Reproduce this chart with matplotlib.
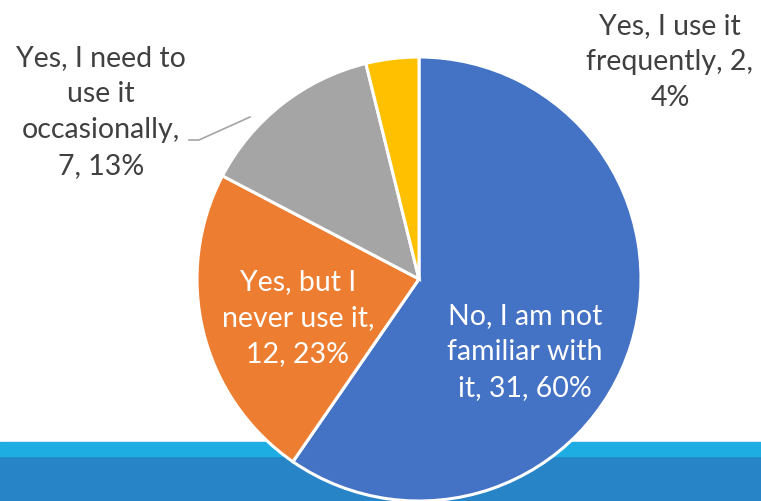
import matplotlib
matplotlib.use("Agg")
import matplotlib.pyplot as plt
from matplotlib.patches import Rectangle

# Data
counts = [31, 12, 7, 2]
label_templates = [
    "No, I am not\nfamiliar with\nit, {v}, {p}%",
    "Yes, but I\nnever use it,\n{v}, {p}%",
    "Yes, I need to\nuse it\noccasionally,\n{v}, {p}%",
    "Yes, I use it\nfrequently, {v},\n{p}%",
]
colors = ["#4472C4", "#ED7D31", "#A5A5A5", "#FFC000"]

W, H = 761, 502
fig = plt.figure(figsize=(W / 100, H / 100), dpi=100)
ax = fig.add_axes([0, 0, 1, 1])

# background bands at the bottom
ax.add_patch(Rectangle((0, 0), W, 44, color="#2784C6", zorder=0))
ax.add_patch(Rectangle((0, 45.5), W, 14, color="#1EADE3", zorder=0))

cx, cy, r = 419, 222, 222
wedges, _ = ax.pie(counts, colors=colors, startangle=90, counterclock=False,
                   center=(cx, cy), radius=r, frame=True,
                   wedgeprops=dict(edgecolor="white", linewidth=2.2))
ax.set_xlim(0, W)
ax.set_ylim(0, H)
ax.set_aspect("equal")
ax.axis("off")

total = sum(counts)
texts = [t.format(v=v, p=round(100 * v / total)) for t, v in zip(label_templates, counts)]
pos = [(525, H - 352), (298, H - 318), (101, H - 112), (670, H - 62)]
tcolors = ["white", "white", "#404040", "#404040"]
for t, (x, y), c in zip(texts, pos, tcolors):
    ax.text(x, y, t, ha="center", va="center", fontsize=20.5, family="Lato",
            color=c, linespacing=1.47, zorder=5)

# leader line for the grey slice
ax.plot([189, 199, 250], [H - 141, H - 141, H - 118], color="#A5A5A5", lw=1.2, zorder=4)

fig.savefig("out.png", dpi=100)
